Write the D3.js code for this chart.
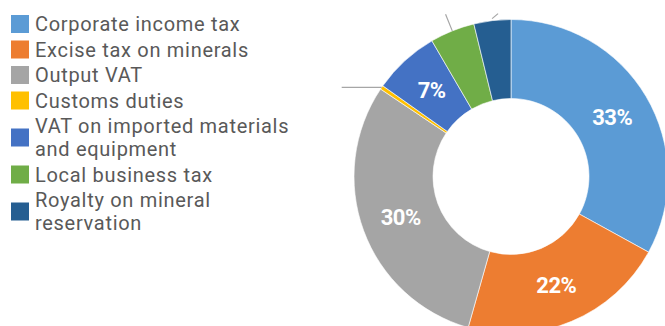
<!DOCTYPE html>
<html>
<head>
<meta charset="utf-8">
<script src="https://cdn.jsdelivr.net/npm/d3@7"></script>
<style>
  body { margin: 0; background: #fff; }
  svg { display: block; font-family: Roboto, "Noto Sans", sans-serif; }
</style>
</head>
<body>
<svg id="chart" width="665" height="326"></svg>
<script>
// tax revenue shares (%)
var categories = ["Corporate income tax", "Excise tax on minerals", "Output VAT", "Customs duties",
  "VAT on imported materials and equipment", "Local business tax", "Royalty on mineral reservation"];
var legendLines = [["Corporate income tax"], ["Excise tax on minerals"], ["Output VAT"], ["Customs duties"],
  ["VAT on imported materials", "and equipment"], ["Local business tax"], ["Royalty on mineral", "reservation"]];
var values = [33.0, 21.4, 30.0, 0.4, 6.8, 4.6, 3.8];
var labels = ["33%", "22%", "30%", "", "7%", "", ""];
var colors = ["#5b9bd5", "#ed7d31", "#a5a5a5", "#ffc000", "#4472c4", "#70ad47", "#255e91"];

var svg = d3.select("#chart");

// legend
var leg = svg.append("g").attr("class", "legend");
var y = 24;
legendLines.forEach(function(lines, i){
  var g = leg.append("g");
  var mid = y + (lines.length - 1) * 23 / 2;
  g.append("rect").attr("x", 11).attr("y", mid - 9).attr("width", 18).attr("height", 18).attr("fill", colors[i]);
  lines.forEach(function(t, j){
    g.append("text").attr("x", 35).attr("y", y + j * 23).attr("dy", "0.35em")
      .attr("font-size", 20).attr("letter-spacing", 0.7).attr("fill", "#595959").text(t);
  });
  y += lines.length * 23 + 2.5;
});

// donut
var cx = 511, cy = 176.5, rOuter = 157, rInner = 78;
var pie = d3.pie().sort(null).value(function(d){ return d; });
var arcs = pie(values);
var arc = d3.arc().innerRadius(rInner).outerRadius(rOuter);

var g = svg.append("g").attr("transform", "translate(" + cx + "," + cy + ")");
g.selectAll("path").data(arcs).enter().append("path")
  .attr("d", arc)
  .attr("fill", function(d, i){ return colors[i]; })
  .attr("stroke", "#fff").attr("stroke-width", 0.6);

g.selectAll("text.lbl").data(arcs).enter().append("text")
  .attr("class", "lbl")
  .attr("transform", function(d){ return "translate(" + arc.centroid(d) + ")"; })
  .attr("text-anchor", "middle").attr("dy", "0.36em")
  .attr("font-size", 22).attr("font-weight", "bold").attr("fill", "#fff")
  .attr("letter-spacing", -0.5)
  .text(function(d, i){ return labels[i]; });

// leader lines for the small slices (their labels fall outside the frame)
function outerPt(d, r){
  var a = (d.startAngle + d.endAngle) / 2;
  return [r * Math.sin(a), -r * Math.cos(a)];
}
var lead = g.append("g").attr("stroke", "#a6a6a6").attr("stroke-width", 1.2).attr("fill", "none");
var p3 = outerPt(arcs[3], rOuter);
lead.append("line").attr("x1", p3[0]).attr("y1", p3[1]).attr("x2", p3[0] - 40).attr("y2", p3[1]);
var p5 = outerPt(arcs[5], rOuter), p5b = outerPt(arcs[5], rOuter + 18);
lead.append("line").attr("x1", p5[0]).attr("y1", p5[1]).attr("x2", p5b[0]).attr("y2", p5b[1]);
var p6 = outerPt(arcs[6], rOuter + 2);
lead.append("line").attr("x1", p6[0]).attr("y1", p6[1]).attr("x2", p6[0] + 6).attr("y2", p6[1] - 5);
</script>
</body>
</html>
